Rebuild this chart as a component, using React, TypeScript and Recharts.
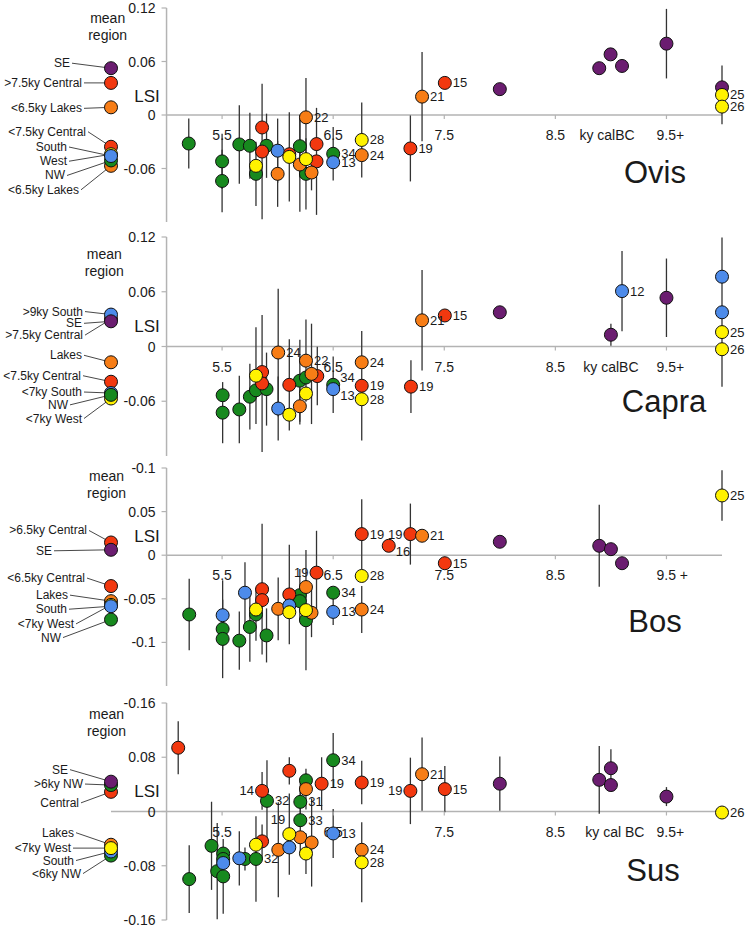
import React from "react";
import {
  ScatterChart,
  Scatter,
  XAxis,
  YAxis,
  ErrorBar,
  ReferenceLine,
  ReferenceDot,
} from "recharts";

type Pt = { x: number; y: number; e?: number; n?: string };
type Mean = { label: string; region: string; y: number };

const FONT = '"Liberation Sans", Arial, Helvetica, sans-serif';
const TEXT = "#1a1a1a";
const AXIS = "#b3b3b3";

const REGION_COLORS: Record<string, string> = {
  SE: "#6b1d70",
  NW: "#17891e",
  Central: "#f2380f",
  Lakes: "#f77d16",
  South: "#4d8bea",
  West: "#fff200",
};
// drawing order, later on top
const REGION_ORDER = ["SE", "NW", "Central", "Lakes", "South", "West"];

const X_DOMAIN: [number, number] = [4.5, 10];
const MEAN_X = 4.5;
const AXIS_X = 5;
const X_TICKS = [5.5, 6.5, 7.5, 8.5, 9.5];
const xTickLabels = ["5.5", "6.5", "7.5", "8.5", "9.5+"];
const bosXTickLabels = ["5.5", "6.5", "7.5", "8.5", "9.5 +"];

// ---------- Ovis ----------
const ovisYTicks = [0.12, 0.06, 0, -0.06];
const ovisYLabels = ["0.12", "0.06", "0", "-0.06"];
const ovisSE: Pt[] = [
  { x: 8.0, y: 0.029 },
  { x: 8.895, y: 0.0525 },
  { x: 8.997, y: 0.068 },
  { x: 9.1, y: 0.055 },
  { x: 9.5, y: 0.08, e: 0.039 },
  { x: 10, y: 0.031 },
];
const ovisNW: Pt[] = [
  { x: 5.2, y: -0.032, e: 0.028 },
  { x: 5.5, y: -0.052, e: 0.031 },
  { x: 5.5, y: -0.074, e: 0.035 },
  { x: 5.655, y: -0.033, e: 0.044 },
  { x: 5.75, y: -0.0345, e: 0.037 },
  { x: 5.805, y: -0.066, e: 0.036 },
  { x: 5.9, y: -0.0345, e: 0.036 },
  { x: 6.2, y: -0.035, e: 0.035 },
  { x: 6.255, y: -0.066, e: 0.04 },
  { x: 6.5, y: -0.0435, e: 0.03, n: "34" },
];
const ovisCentral: Pt[] = [
  { x: 5.86, y: -0.014 },
  { x: 5.86, y: -0.041, e: 0.076 },
  { x: 6.105, y: -0.044 },
  { x: 6.35, y: -0.0326 },
  { x: 6.35, y: -0.052, e: 0.06 },
  { x: 7.195, y: -0.0375, e: 0.037, n: "19" },
  { x: 7.505, y: 0.036, n: "15" },
];
const ovisLakes: Pt[] = [
  { x: 6.0, y: -0.066, e: 0.037 },
  { x: 6.2, y: -0.0555, e: 0.053 },
  { x: 6.255, y: -0.0026, e: 0.044, n: "22" },
  { x: 6.305, y: -0.0645, e: 0.02 },
  { x: 6.757, y: -0.045, n: "24" },
  { x: 7.3, y: 0.0206, e: 0.05, n: "21" },
];
const ovisSouth: Pt[] = [
  { x: 6.0, y: -0.04, e: 0.036 },
  { x: 6.5, y: -0.053, n: "13" },
];
const ovisWest: Pt[] = [
  { x: 5.805, y: -0.057 },
  { x: 6.105, y: -0.047, e: 0.05 },
  { x: 6.255, y: -0.0495 },
  { x: 6.757, y: -0.028, e: 0.042, n: "28" },
  { x: 10, y: 0.0225, e: 0.033, n: "25" },
  { x: 10, y: 0.0094, n: "26" },
];
const ovisMeans: Mean[] = [
  { label: "SE", region: "SE", y: 0.0525 },
  { label: ">7.5ky Central", region: "Central", y: 0.036 },
  { label: "<6.5ky Lakes", region: "Lakes", y: 0.0086 },
  { label: "<7.5ky Central", region: "Central", y: -0.0356 },
  { label: "<6.5ky Lakes", region: "Lakes", y: -0.057 },
  { label: "NW", region: "NW", y: -0.051 },
  { label: "West", region: "West", y: -0.044 },
  { label: "South", region: "South", y: -0.046 },
];
const ovisMeanOffsets = [[-41, -5], [-29, 0], [-29, 1], [-25, -15], [-32, 24], [-46, 15], [-44, 7], [-44, -9]];

// ---------- Capra ----------
const capraYTicks = [0.12, 0.06, 0, -0.06];
const capraYLabels = ["0.12", "0.06", "0", "-0.06"];
const capraSE: Pt[] = [
  { x: 8.0, y: 0.0375 },
  { x: 9.0, y: 0.0129, e: 0.012 },
  { x: 9.5, y: 0.0534, e: 0.043 },
];
const capraNW: Pt[] = [
  { x: 5.505, y: -0.0534 },
  { x: 5.505, y: -0.0725, e: 0.0335 },
  { x: 5.655, y: -0.069, e: 0.037 },
  { x: 5.75, y: -0.055, e: 0.036 },
  { x: 5.805, y: -0.048 },
  { x: 5.9, y: -0.0467, e: 0.04 },
  { x: 6.2, y: -0.0375, e: 0.045 },
  { x: 6.255, y: -0.034 },
  { x: 6.5, y: -0.042, e: 0.031, n: "34" },
];
const capraCentral: Pt[] = [
  { x: 5.86, y: -0.028 },
  { x: 5.86, y: -0.0405, e: 0.075 },
  { x: 6.105, y: -0.042, e: 0.05 },
  { x: 6.357, y: -0.0324, e: 0.032 },
  { x: 6.757, y: -0.043, e: 0.06, n: "19" },
  { x: 7.2, y: -0.044, e: 0.029, n: "19" },
  { x: 7.505, y: 0.034, n: "15" },
];
const capraLakes: Pt[] = [
  { x: 6.005, y: -0.0066, e: 0.07, n: "24" },
  { x: 6.2, y: -0.0655, e: 0.02 },
  { x: 6.255, y: -0.0155, e: 0.045, n: "22" },
  { x: 6.305, y: -0.03, e: 0.055 },
  { x: 6.757, y: -0.0173, n: "24" },
  { x: 7.3, y: 0.0287, e: 0.055, n: "21" },
];
const capraSouth: Pt[] = [
  { x: 6.005, y: -0.068, e: 0.035 },
  { x: 6.5, y: -0.0467, n: "13" },
  { x: 9.1, y: 0.0607, e: 0.044, n: "12" },
  { x: 10, y: 0.0765, e: 0.043 },
  { x: 10, y: 0.0375 },
];
const capraWest: Pt[] = [
  { x: 5.805, y: -0.032, e: 0.053 },
  { x: 6.105, y: -0.0747 },
  { x: 6.255, y: -0.0515 },
  { x: 6.757, y: -0.0578, n: "28" },
  { x: 10, y: 0.0158, n: "25" },
  { x: 10, y: -0.003, e: 0.041, n: "26" },
];
const capraMeans: Mean[] = [
  { label: ">7.5ky Central", region: "Central", y: 0.03 },
  { label: ">9ky South", region: "South", y: 0.035 },
  { label: "SE", region: "SE", y: 0.0276 },
  { label: "Lakes", region: "Lakes", y: -0.0173 },
  { label: "<7.5ky Central", region: "Central", y: -0.0386 },
  { label: "<7ky West", region: "West", y: -0.057 },
  { label: "<7ky South", region: "South", y: -0.051 },
  { label: "NW", region: "NW", y: -0.053 },
];
const capraMeanOffsets = [[-28, 16], [-28, -3], [-29, 2], [-29, -7], [-30, -6], [-29, 20], [-29, -1], [-43, 10]];

// ---------- Bos ----------
const bosYTicks = [0.1, 0.05, 0, -0.05, -0.1];
const bosYLabels = ["-0.1", "0.05", "0", "-0.05", "-0.1"];
const bosSE: Pt[] = [
  { x: 8.0, y: 0.0154 },
  { x: 8.895, y: 0.0108, e: 0.047 },
  { x: 9.0, y: 0.0069 },
  { x: 9.1, y: -0.0092 },
];
const bosNW: Pt[] = [
  { x: 5.204, y: -0.068, e: 0.041 },
  { x: 5.505, y: -0.0846 },
  { x: 5.505, y: -0.096, e: 0.045 },
  { x: 5.655, y: -0.098, e: 0.0335 },
  { x: 5.75, y: -0.0823, e: 0.04 },
  { x: 5.805, y: -0.068, e: 0.03 },
  { x: 5.9, y: -0.092, e: 0.031 },
  { x: 6.2, y: -0.0458, e: 0.03 },
  { x: 6.2, y: -0.0527 },
  { x: 6.255, y: -0.0746 },
  { x: 6.5, y: -0.043, n: "34" },
];
const bosCentral: Pt[] = [
  { x: 5.86, y: -0.039, e: 0.075 },
  { x: 5.86, y: -0.0515 },
  { x: 6.105, y: -0.045, e: 0.057 },
  { x: 6.35, y: -0.02, e: 0.048, n: "19" },
  { x: 6.757, y: 0.0242, e: 0.04, n: "19" },
  { x: 7.0, y: 0.0108, n: "16" },
  { x: 7.195, y: 0.0242, e: 0.035, n: "19" },
  { x: 7.505, y: -0.0092, n: "15" },
];
const bosLakes: Pt[] = [
  { x: 6.005, y: -0.0615, e: 0.036 },
  { x: 6.255, y: -0.0365 },
  { x: 6.305, y: -0.066, e: 0.028 },
  { x: 6.757, y: -0.0623, e: 0.027, n: "24" },
  { x: 7.3, y: 0.0223, n: "21" },
];
const bosSouth: Pt[] = [
  { x: 5.505, y: -0.0688, e: 0.04 },
  { x: 5.706, y: -0.043, e: 0.035 },
  { x: 6.105, y: -0.0577 },
  { x: 6.5, y: -0.065, e: 0.015, n: "13" },
];
const bosWest: Pt[] = [
  { x: 5.805, y: -0.0623 },
  { x: 6.105, y: -0.0654 },
  { x: 6.255, y: -0.063, e: 0.069 },
  { x: 6.757, y: -0.0238, n: "28" },
  { x: 10, y: 0.0685, e: 0.029, n: "25" },
];
const bosMeans: Mean[] = [
  { label: ">6.5ky Central", region: "Central", y: 0.0146 },
  { label: "SE", region: "SE", y: 0.0062 },
  { label: "<6.5ky Central", region: "Central", y: -0.0354 },
  { label: "NW", region: "NW", y: -0.0738 },
  { label: "Lakes", region: "Lakes", y: -0.0527 },
  { label: "<7ky West", region: "West", y: -0.057 },
  { label: "South", region: "South", y: -0.0585 },
];
const bosMeanOffsets = [[-24, -12], [-59, 1], [-26, -8], [-50, 18], [-43, -6], [-37, 19], [-44, 3]];

// ---------- Sus ----------
const susYTicks = [0.16, 0.08, 0, -0.08, -0.16];
const susYLabels = ["-0.16", "0.08", "0", "-0.08", "-0.16"];
const susSE: Pt[] = [
  { x: 8.0, y: 0.041, e: 0.04 },
  { x: 8.895, y: 0.0467, e: 0.05 },
  { x: 9.0, y: 0.0638, e: 0.028 },
  { x: 9.0, y: 0.039 },
  { x: 9.5, y: 0.022, e: 0.014 },
];
const susNW: Pt[] = [
  { x: 5.204, y: -0.0997, e: 0.05 },
  { x: 5.405, y: -0.0506, e: 0.065 },
  { x: 5.456, y: -0.088, e: 0.071 },
  { x: 5.51, y: -0.062 },
  { x: 5.51, y: -0.07 },
  { x: 5.51, y: -0.0957, e: 0.055 },
  { x: 5.706, y: -0.07, e: 0.017 },
  { x: 5.805, y: -0.07, e: 0.063, n: "32" },
  { x: 5.904, y: 0.0157, e: 0.06, n: "32" },
  { x: 6.204, y: 0.0142, e: 0.03, n: "31" },
  { x: 6.204, y: -0.0128, e: 0.05, n: "33" },
  { x: 6.255, y: 0.046 },
  { x: 6.5, y: 0.0756, e: 0.04, n: "34" },
];
const susCentral: Pt[] = [
  { x: 5.105, y: 0.094, e: 0.039 },
  { x: 5.86, y: 0.0304, e: 0.028, n: "14" },
  { x: 5.86, y: -0.044, e: 0.025 },
  { x: 6.105, y: 0.06, e: 0.02 },
  { x: 6.396, y: 0.041, e: 0.039, n: "19" },
  { x: 6.757, y: 0.0427, e: 0.032, n: "19" },
  { x: 7.195, y: 0.0304, e: 0.049, n: "19" },
  { x: 7.505, y: 0.033, e: 0.034, n: "15" },
];
const susLakes: Pt[] = [
  { x: 6.006, y: -0.0565, e: 0.07 },
  { x: 6.204, y: -0.038 },
  { x: 6.255, y: 0.033, e: 0.03 },
  { x: 6.306, y: -0.0457, e: 0.065 },
  { x: 6.757, y: -0.0565, n: "24" },
  { x: 7.3, y: 0.055, e: 0.054, n: "21" },
];
const susSouth: Pt[] = [
  { x: 5.51, y: -0.076 },
  { x: 5.655, y: -0.069, e: 0.04 },
  { x: 6.105, y: -0.053 },
  { x: 6.5, y: -0.0324, e: 0.036, n: "13" },
];
const susWest: Pt[] = [
  { x: 5.805, y: -0.049 },
  { x: 6.105, y: -0.0334, e: 0.06, n: "19" },
  { x: 6.255, y: -0.062, e: 0.03 },
  { x: 6.757, y: -0.075, e: 0.059, n: "28" },
  { x: 10, y: -0.0015, n: "26" },
];
const susMeans: Mean[] = [
  { label: "Central", region: "Central", y: 0.029 },
  { label: ">6ky NW", region: "NW", y: 0.039 },
  { label: "SE", region: "SE", y: 0.044 },
  { label: "<6ky NW", region: "NW", y: -0.065 },
  { label: "South", region: "South", y: -0.059 },
  { label: "Lakes", region: "Lakes", y: -0.049 },
  { label: "<7ky West", region: "West", y: -0.054 },
];
const susMeanOffsets = [[-32, 11], [-28, -1], [-43, -12], [-30, 18], [-37, 9], [-37, -12], [-40, 0]];

// label placement relative to point centre: [dx, dy, anchor]
const SIDES: Record<string, [number, number, string]> = {
  right: [8, 0, "start"],
  left: [-8, 0, "end"],
  upRight: [7, -7, "start"],
  downRight: [7, 6, "start"],
  upLeft: [-4, -15, "end"],
};

type PanelCfg = {
  name: string;
  height: number;
  top: number;
  bottom: number;
  yDomain: [number, number];
  yTicks: number[];
  yLabels: string[];
  xLabels: string[];
  zeroFrom: number;
  series: Record<string, Pt[]>;
  means: Mean[];
  meanOffsets: number[][];
  sides: Record<string, string>;
  meanAt: [number, number];
  lsiAt: [number, number];
  ky?: { x: number; text: string };
  titleAt: [number, number];
};

const panels: PanelCfg[] = [
  {
    name: "Ovis", height: 232, top: 8, bottom: 10, yDomain: [-0.12, 0.12],
    yTicks: ovisYTicks, yLabels: ovisYLabels, xLabels: xTickLabels, zeroFrom: 5,
    series: { SE: ovisSE, NW: ovisNW, Central: ovisCentral, Lakes: ovisLakes, South: ovisSouth, West: ovisWest },
    means: ovisMeans, meanOffsets: ovisMeanOffsets, sides: {},
    meanAt: [4.47, 0.1088], lsiAt: [4.824, 0.0202], ky: { x: 8.965, text: "ky calBC" }, titleAt: [9.397, -0.064],
  },
  {
    name: "Capra", height: 232, top: 5, bottom: 8, yDomain: [-0.12, 0.12],
    yTicks: capraYTicks, yLabels: capraYLabels, xLabels: xTickLabels, zeroFrom: 5,
    series: { SE: capraSE, NW: capraNW, Central: capraCentral, Lakes: capraLakes, South: capraSouth, West: capraWest },
    means: capraMeans, meanOffsets: capraMeanOffsets, sides: { "34@6.5": "upRight", "13@6.5": "downRight" },
    meanAt: [4.44, 0.1013], lsiAt: [4.824, 0.022], ky: { x: 9.0, text: "ky calBC" }, titleAt: [9.478, -0.0606],
  },
  {
    name: "Bos", height: 232, top: 4, bottom: 10, yDomain: [-0.15, 0.1],
    yTicks: bosYTicks, yLabels: bosYLabels, xLabels: bosXTickLabels, zeroFrom: 5,
    series: { SE: bosSE, NW: bosNW, Central: bosCentral, Lakes: bosLakes, South: bosSouth, West: bosWest },
    means: bosMeans, meanOffsets: bosMeanOffsets, sides: { "19@6.35": "left", "19@7.195": "left", "16@7": "downRight" },
    meanAt: [4.46, 0.0912], lsiAt: [4.824, 0.0219], titleAt: [9.397, -0.0762],
  },
  {
    name: "Sus", height: 233, top: 7, bottom: 9, yDomain: [-0.16, 0.16],
    yTicks: susYTicks, yLabels: susYLabels, xLabels: xTickLabels, zeroFrom: 4.5,
    series: { SE: susSE, NW: susNW, Central: susCentral, Lakes: susLakes, South: susSouth, West: susWest },
    means: susMeans, meanOffsets: susMeanOffsets, sides: { "14@5.86": "left", "19@7.195": "left", "19@6.105": "upLeft" },
    meanAt: [4.46, 0.1437], lsiAt: [4.824, 0.0296], ky: { x: 9.036, text: "ky cal BC" }, titleAt: [9.379, -0.0874],
  },
];

const txt = (size: number) => ({ fontFamily: FONT, fontSize: size, fill: TEXT });

const pointShape = (color: string, sides: Record<string, string>) => (p: any) => {
  const d: Pt = p.payload || {};
  let label = null;
  if (d.n) {
    const [dx, dy, anchor] = SIDES[sides[`${d.n}@${d.x}`] || "right"];
    label = (
      <text x={p.cx + dx} y={p.cy + dy} textAnchor={anchor} dominantBaseline="central" {...txt(13)}>
        {d.n}
      </text>
    );
  }
  return (
    <g>
      <circle cx={p.cx} cy={p.cy} r={6.5} fill={color} stroke="#111" strokeWidth={1} />
      {label}
    </g>
  );
};

function Panel({ cfg }: { cfg: PanelCfg }) {
  const meansData = cfg.means.map((m, i) => ({ ...m, x: MEAN_X, off: cfg.meanOffsets[i] }));
  return (
    <div style={{ height: cfg.height }}>
      <ScatterChart
        width={746}
        height={cfg.height}
        margin={{ top: cfg.top, right: 24, bottom: cfg.bottom, left: 111 }}
      >
        <XAxis type="number" dataKey="x" domain={X_DOMAIN} hide />
        <YAxis type="number" dataKey="y" domain={cfg.yDomain} hide />
        <ReferenceLine x={AXIS_X} stroke={AXIS} strokeWidth={1.5} />
        <ReferenceLine
          segment={[{ x: cfg.zeroFrom, y: 0 }, { x: 10, y: 0 }]}
          stroke={AXIS}
          strokeWidth={1.5}
          ifOverflow="visible"
        />
        {cfg.yTicks.map((v, i) => (
          <ReferenceDot
            key={"yt" + i}
            x={AXIS_X}
            y={v}
            ifOverflow="visible"
            shape={(p: any) => (
              <g>
                <line x1={p.cx - 5} x2={p.cx} y1={p.cy} y2={p.cy} stroke={AXIS} strokeWidth={1.2} />
                <text x={p.cx - 11} y={p.cy} textAnchor="end" dominantBaseline="central" {...txt(14)}>
                  {cfg.yLabels[i]}
                </text>
              </g>
            )}
          />
        ))}
        {X_TICKS.map((v, i) => (
          <ReferenceDot
            key={"xt" + i}
            x={v}
            y={0}
            ifOverflow="visible"
            shape={(p: any) => (
              <g>
                <line x1={p.cx} x2={p.cx} y1={p.cy} y2={p.cy + 4} stroke={AXIS} strokeWidth={1.2} />
                <text
                  x={i === 4 ? p.cx - 10 : p.cx}
                  y={p.cy + 20}
                  textAnchor={i === 4 ? "start" : "middle"}
                  dominantBaseline="central"
                  {...txt(14)}
                >
                  {cfg.xLabels[i]}
                </text>
              </g>
            )}
          />
        ))}
        {cfg.ky && (
          <ReferenceDot
            x={cfg.ky.x}
            y={0}
            ifOverflow="visible"
            shape={(p: any) => (
              <text x={p.cx} y={p.cy + 20} textAnchor="middle" dominantBaseline="central" {...txt(14)}>
                {cfg.ky!.text}
              </text>
            )}
          />
        )}
        <ReferenceDot
          x={cfg.meanAt[0]}
          y={cfg.meanAt[1]}
          ifOverflow="visible"
          shape={(p: any) => (
            <text x={p.cx} y={p.cy} textAnchor="middle" dominantBaseline="central" {...txt(14)}>
              <tspan x={p.cx}>mean</tspan>
              <tspan x={p.cx} dy={17}>region</tspan>
            </text>
          )}
        />
        <ReferenceDot
          x={cfg.lsiAt[0]}
          y={cfg.lsiAt[1]}
          ifOverflow="visible"
          shape={(p: any) => (
            <text x={p.cx} y={p.cy} textAnchor="middle" dominantBaseline="central" {...txt(17)}>
              LSI
            </text>
          )}
        />
        <ReferenceDot
          x={cfg.titleAt[0]}
          y={cfg.titleAt[1]}
          ifOverflow="visible"
          shape={(p: any) => (
            <text x={p.cx} y={p.cy} textAnchor="middle" dominantBaseline="central" {...txt(31)}>
              {cfg.name}
            </text>
          )}
        />
        {/* mean region leader lines + labels */}
        <Scatter
          data={meansData}
          isAnimationActive={false}
          shape={(p: any) => {
            const m = p.payload;
            const tx = p.cx + m.off[0];
            const ty = p.cy + m.off[1];
            return (
              <g>
                <line x1={tx + 2} y1={ty} x2={p.cx} y2={p.cy} stroke="#333" strokeWidth={0.9} />
                <text x={tx} y={ty} textAnchor="end" dominantBaseline="central" {...txt(12)}>
                  {m.label}
                </text>
              </g>
            );
          }}
        />
        <Scatter
          data={meansData}
          isAnimationActive={false}
          shape={(p: any) => (
            <circle cx={p.cx} cy={p.cy} r={6.5} fill={REGION_COLORS[p.payload.region]} stroke="#111" strokeWidth={1} />
          )}
        />
        {REGION_ORDER.map((r) => (
          <Scatter
            key={r}
            name={r}
            data={cfg.series[r]}
            isAnimationActive={false}
            shape={pointShape(REGION_COLORS[r], cfg.sides)}
          >
            <ErrorBar dataKey="e" direction="y" width={0} stroke="#333" strokeWidth={1.3} />
          </Scatter>
        ))}
      </ScatterChart>
    </div>
  );
}

export default function App() {
  return (
    <div style={{ position: "fixed", left: 0, top: 0, width: 746, height: 929, background: "#fff" }}>
      <style>{".recharts-surface{overflow:visible}.recharts-wrapper{overflow:visible}"}</style>
      {panels.map((cfg) => (
        <Panel key={cfg.name} cfg={cfg} />
      ))}
    </div>
  );
}
